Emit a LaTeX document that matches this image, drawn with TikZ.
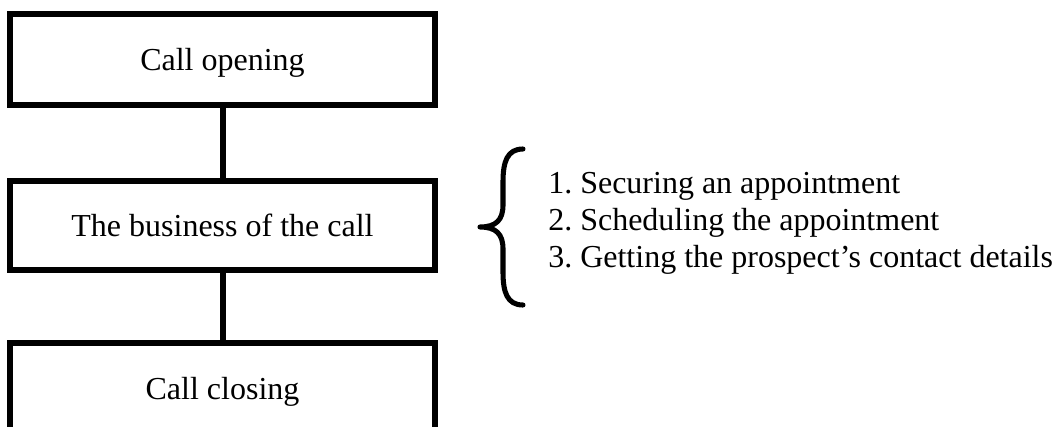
\documentclass[tikz,border=0pt]{standalone}
\usepackage{fontspec}
\setmainfont{Liberation Serif}
\frenchspacing
\begin{document}
\begin{tikzpicture}[x=0.75pt,y=-0.75pt,
  stagebox/.style={draw=black, line width=3.8pt, rectangle, minimum width=318.75pt,
    inner sep=0pt, font=\fontsize{24pt}{28pt}\selectfont, text height=21pt, text depth=5pt},
  link/.style={line width=4.5pt},
  item/.style={anchor=base west, inner sep=0pt, font=\fontsize{24pt}{28pt}\selectfont}]
\useasboundingbox (0,0) rectangle (1056,426);
\clip (0,0) rectangle (1056,426);

% the three stages of the call
\node[stagebox, minimum height=68.25pt] (open) at (222.5,59.5) {Call opening};
\node[stagebox, minimum height=66.75pt] (business) at (222.5,225.5) {The business of the call};
\node[stagebox, minimum height=68.25pt] (close) at (222.5,388.5) {Call closing};

\draw[link] (open.south) -- (business.north);
\draw[link] (business.south) -- (close.north);

% curly brace grouping the tasks
\draw[line width=3.8pt, line cap=round, line join=round]
  (523,149) .. controls (507,149) and (503,162) .. (503,182)
  -- (503,205) .. controls (503,220) and (496,227) .. (480,227)
  .. controls (496,227) and (503,234) .. (503,249)
  -- (503,272) .. controls (503,292) and (507,305) .. (523,305);

% tasks within the business of the call
\node[item] (t1) at (548,193) {1. Securing an appointment};
\node[item] (t2) at (548,230) {2. Scheduling the appointment};
\node[item] (t3) at (548,267) {3. Getting the prospect’s contact details};
\end{tikzpicture}
\end{document}
